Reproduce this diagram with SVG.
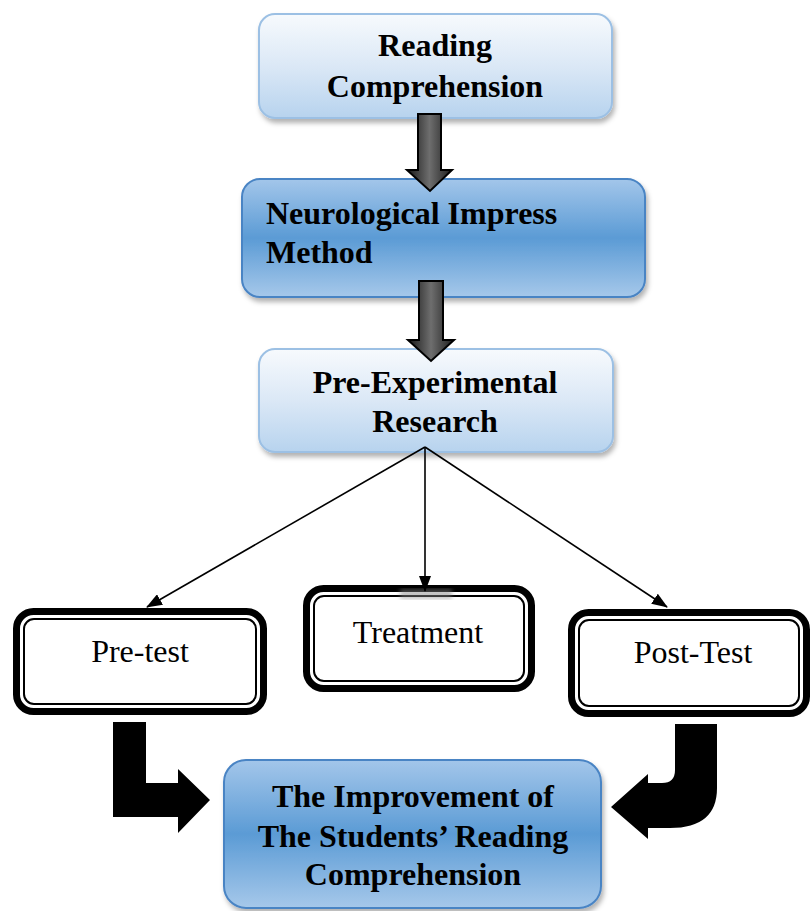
<svg xmlns="http://www.w3.org/2000/svg" width="811" height="911" viewBox="0 0 811 911">
<defs>
<linearGradient id="light" x1="0" y1="0" x2="0" y2="1">
<stop offset="0" stop-color="#f7fafd"/>
<stop offset="0.5" stop-color="#dbe8f6"/>
<stop offset="1" stop-color="#b7d3ee"/>
</linearGradient>
<linearGradient id="dark" x1="0" y1="0" x2="0" y2="1">
<stop offset="0" stop-color="#a3c6ea"/>
<stop offset="0.5" stop-color="#5b9bd5"/>
<stop offset="1" stop-color="#a6c8ea"/>
</linearGradient>
<linearGradient id="metal" x1="0" y1="0" x2="1" y2="0">
<stop offset="0" stop-color="#161616"/>
<stop offset="0.5" stop-color="#6e6e6e"/>
<stop offset="1" stop-color="#1c1c1c"/>
</linearGradient>
<filter id="sh" x="-10%" y="-10%" width="125%" height="130%">
<feDropShadow dx="2" dy="4" stdDeviation="2.5" flood-color="#000" flood-opacity="0.3"/>
</filter>
<filter id="blur"><feGaussianBlur stdDeviation="2"/></filter>
<marker id="ah" markerWidth="16" markerHeight="12" refX="15" refY="6" orient="auto" markerUnits="userSpaceOnUse">
<path d="M0,0 L16,6 L0,12 Z" fill="#000"/>
</marker>
<style>
.lb{fill:url(#light);stroke:#9cc0e4;stroke-width:2;filter:url(#sh)}
.db{fill:url(#dark);stroke:#4a84c4;stroke-width:2;filter:url(#sh)}
.bt{font-family:"Liberation Serif","Times New Roman",serif;font-weight:bold;font-size:32px;fill:#000}
.rt{font-family:"Liberation Serif","Times New Roman",serif;font-size:32px;fill:#000}
.outer{fill:#fff;stroke:#000;stroke-width:7}
.inner{fill:none;stroke:#000;stroke-width:2}
.conn{stroke:#000;stroke-width:1.6;fill:none}
.bigarrow{fill:url(#metal);stroke:#000;stroke-width:2}
</style>
</defs>

<g id="node-reading">
<rect class="lb" x="259" y="14" width="353" height="104" rx="16"/>
<text class="bt" x="435" y="56" text-anchor="middle">Reading</text>
<text class="bt" x="435" y="97" text-anchor="middle">Comprehension</text>
</g>

<g id="node-nim">
<rect class="db" x="242" y="179" width="403" height="118" rx="18"/>
<text class="bt" x="266" y="224">Neurological Impress</text>
<text class="bt" x="266" y="263">Method</text>
</g>

<g id="node-pre-exp">
<rect class="lb" x="259" y="349" width="354" height="103" rx="16"/>
<text class="bt" x="435" y="393" text-anchor="middle">Pre-Experimental</text>
<text class="bt" x="435" y="432" text-anchor="middle">Research</text>
</g>

<g id="node-pretest">
<rect class="outer" x="16.5" y="611.5" width="247" height="100" rx="17"/>
<rect class="inner" x="24" y="619" width="232" height="85" rx="10"/>
<text class="rt" x="140" y="662" text-anchor="middle">Pre-test</text>
</g>

<g id="node-treatment">
<rect class="outer" x="306.5" y="588.5" width="225" height="100" rx="17"/>
<rect class="inner" x="314" y="596" width="210" height="85" rx="10"/>
<text class="rt" x="418" y="643" text-anchor="middle">Treatment</text>
</g>

<g id="node-posttest">
<rect class="outer" x="571.5" y="612.5" width="235" height="101" rx="17"/>
<rect class="inner" x="579" y="620" width="220" height="86" rx="10"/>
<text class="rt" x="693" y="663" text-anchor="middle">Post-Test</text>
</g>

<g id="node-improvement">
<rect class="db" x="224" y="760" width="377" height="148" rx="22"/>
<text class="bt" x="413" y="807" text-anchor="middle">The Improvement of</text>
<text class="bt" x="413" y="847" text-anchor="middle">The Students’ Reading</text>
<text class="bt" x="413" y="885" text-anchor="middle">Comprehension</text>
</g>

<g id="connectors">
<path class="bigarrow" d="M418 114 H441 V170 H452 L430 191 L407 170 H418 Z"/>
<path class="bigarrow" d="M419 281 H443 V340 H454 L431 361 L408 340 H419 Z"/>
<rect x="400" y="589" width="52" height="10" fill="#888" opacity="0.5" filter="url(#blur)"/>
<line class="conn" x1="425" y1="447" x2="147" y2="607" marker-end="url(#ah)"/>
<line class="conn" x1="425" y1="447" x2="425" y2="591" marker-end="url(#ah)"/>
<line class="conn" x1="425" y1="447" x2="667" y2="607" marker-end="url(#ah)"/>
<path d="M113 722 H146 V783 H178 V769 L210 800 L178 833 V817 H113 Z" fill="#000"/>
<path d="M675 724 H717 V788 Q717 828 670 828 H648 V839 L611 807 L648 774 V783 H662 Q675 783 675 770 Z" fill="#000"/>
</g>
</svg>
